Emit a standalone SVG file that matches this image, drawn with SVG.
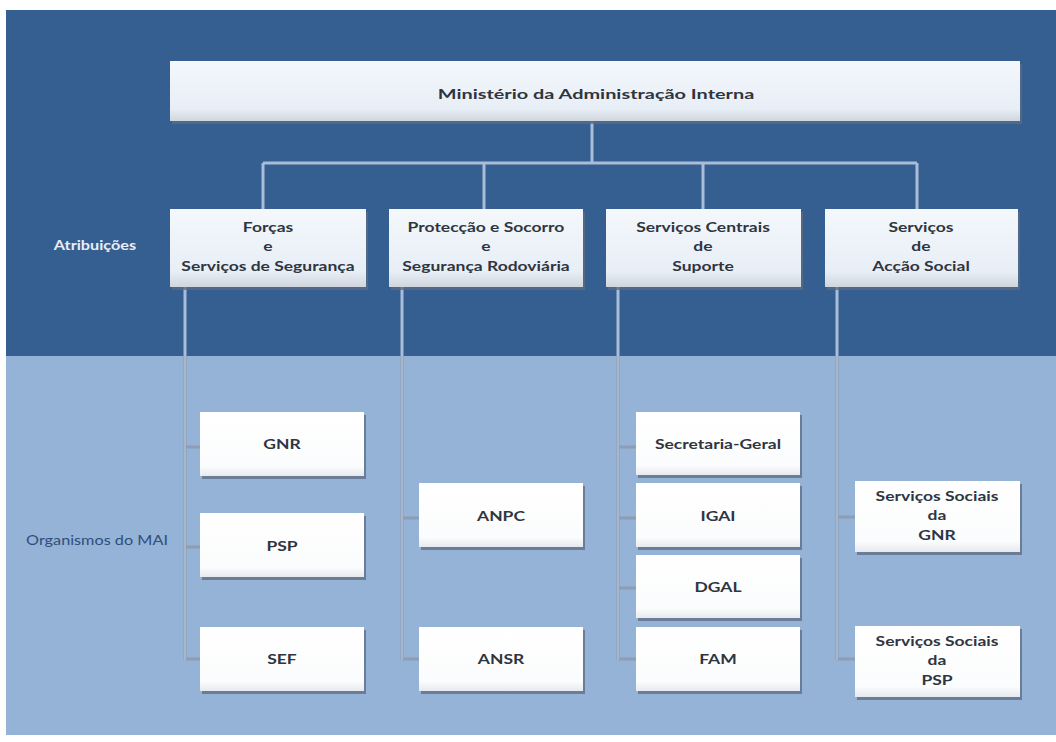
<svg xmlns="http://www.w3.org/2000/svg" width="1056" height="742" viewBox="0 0 1056 742">
<defs>
<linearGradient id="gTop" x1="0" y1="0" x2="0" y2="1">
<stop offset="0" stop-color="#f4f8fc"/><stop offset="0.8" stop-color="#e8eef6"/><stop offset="1" stop-color="#cfd6df"/>
</linearGradient>
<linearGradient id="gBox" x1="0" y1="0" x2="0" y2="1">
<stop offset="0" stop-color="#ffffff"/><stop offset="0.85" stop-color="#fbfcfd"/><stop offset="1" stop-color="#e6e9ee"/>
</linearGradient>
<style>
.sh{fill:#5d6b80;opacity:0.75}
.top{fill:url(#gTop)}
.box{fill:url(#gBox)}
.t{font-family:Lato,"Open Sans","Liberation Sans",sans-serif;font-weight:bold;fill:#2f3540;text-anchor:middle;font-size:14px}
.c1{stroke:#a9bdd8;stroke-width:3;fill:none}
.c2{stroke:#8e9db3;stroke-width:3;fill:none}
.c2i{stroke:#c3cfdf;stroke-width:1;fill:none}
</style>
</defs>
<rect x="0" y="0" width="1056" height="742" fill="#ffffff"/>
<rect x="6" y="10" width="1050" height="346" fill="#365f91"/>
<rect x="6" y="356" width="1050" height="379" fill="#95b3d7"/>

<g id="connectors">
<path class="c1" d="M592 122V163M263 163H917M263 163V209M484 163V209M703 163V209M917 163V209"/>
<path class="c1" d="M185 287V356M402 287V356M618 287V356M837 287V356"/>
<path class="c2" d="M185 356V660M402 356V660M618 356V660M837 356V660"/>
<path class="c2" d="M185 447H200M185 547H200M185 659H200M402 518H419M402 659H419M618 447H636M618 518H636M618 588H636M618 659H636M837 517H855M837 659H855"/>
<path class="c2i" d="M185 356V660M402 356V660M618 356V660M837 356V660"/>
</g>

<g id="label-atribuicoes"><text transform="translate(95 250) scale(1.3 1)" x="0" y="0" font-family="Lato,'Open Sans','Liberation Sans',sans-serif" font-weight="bold" font-size="12.5" fill="#e8eef6" text-anchor="middle">Atribuições</text></g>
<g id="label-organismos"><text transform="translate(97 545) scale(1.3 1)" x="0" y="0" font-family="Lato,'Open Sans','Liberation Sans',sans-serif" font-size="12.5" fill="#2e4f7c" text-anchor="middle">Organismos do MAI</text></g>

<g id="mai"><rect class="sh" x="172" y="64" width="850" height="60"/><rect class="top" x="170" y="61" width="850" height="60"/><text class="t" transform="translate(596 99) scale(1.42 1)" x="0" y="0" font-size="19">Ministério da Administração Interna</text></g>

<g id="forcas"><rect class="sh" x="172" y="212" width="196" height="78"/><rect class="top" x="170" y="209" width="196" height="78"/>
<g transform="translate(268 0) scale(1.25 1)"><text class="t" x="0" y="232">Forças</text><text class="t" x="0" y="251">e</text><text class="t" x="0" y="271">Serviços de Segurança</text></g></g>
<g id="proteccao"><rect class="sh" x="391" y="212" width="194" height="78"/><rect class="top" x="389" y="209" width="194" height="78"/>
<g transform="translate(486 0) scale(1.25 1)"><text class="t" x="0" y="232">Protecção e Socorro</text><text class="t" x="0" y="251">e</text><text class="t" x="0" y="271">Segurança Rodoviária</text></g></g>
<g id="centrais"><rect class="sh" x="608" y="212" width="195" height="78"/><rect class="top" x="606" y="209" width="195" height="78"/>
<g transform="translate(703 0) scale(1.25 1)"><text class="t" x="0" y="232">Serviços Centrais</text><text class="t" x="0" y="251">de</text><text class="t" x="0" y="271">Suporte</text></g></g>
<g id="accao"><rect class="sh" x="827" y="212" width="193" height="78"/><rect class="top" x="825" y="209" width="193" height="78"/>
<g transform="translate(921 0) scale(1.25 1)"><text class="t" x="0" y="232">Serviços</text><text class="t" x="0" y="251">de</text><text class="t" x="0" y="271">Acção Social</text></g></g>

<g id="gnr"><rect class="sh" x="202" y="415" width="164" height="64"/><rect class="box" x="200" y="412" width="164" height="64"/><text class="t" transform="translate(282 449) scale(1.25 1)" x="0" y="0">GNR</text></g>
<g id="psp"><rect class="sh" x="202" y="516" width="164" height="64"/><rect class="box" x="200" y="513" width="164" height="64"/><text class="t" transform="translate(282 551) scale(1.25 1)" x="0" y="0">PSP</text></g>
<g id="sef"><rect class="sh" x="202" y="630" width="164" height="64"/><rect class="box" x="200" y="627" width="164" height="64"/><text class="t" transform="translate(282 664) scale(1.25 1)" x="0" y="0">SEF</text></g>

<g id="anpc"><rect class="sh" x="421" y="486" width="164" height="64"/><rect class="box" x="419" y="483" width="164" height="64"/><text class="t" transform="translate(501 521) scale(1.25 1)" x="0" y="0">ANPC</text></g>
<g id="ansr"><rect class="sh" x="421" y="630" width="164" height="64"/><rect class="box" x="419" y="627" width="164" height="64"/><text class="t" transform="translate(501 664) scale(1.25 1)" x="0" y="0">ANSR</text></g>

<g id="secretaria"><rect class="sh" x="638" y="415" width="164" height="63"/><rect class="box" x="636" y="412" width="164" height="63"/><text class="t" transform="translate(718 449) scale(1.25 1)" x="0" y="0">Secretaria-Geral</text></g>
<g id="igai"><rect class="sh" x="638" y="486" width="164" height="64"/><rect class="box" x="636" y="483" width="164" height="64"/><text class="t" transform="translate(718 521) scale(1.25 1)" x="0" y="0">IGAI</text></g>
<g id="dgal"><rect class="sh" x="638" y="558" width="164" height="63"/><rect class="box" x="636" y="555" width="164" height="63"/><text class="t" transform="translate(718 592) scale(1.25 1)" x="0" y="0">DGAL</text></g>
<g id="fam"><rect class="sh" x="638" y="630" width="164" height="64"/><rect class="box" x="636" y="627" width="164" height="64"/><text class="t" transform="translate(718 664) scale(1.25 1)" x="0" y="0">FAM</text></g>

<g id="ss-gnr"><rect class="sh" x="857" y="484" width="165" height="71"/><rect class="box" x="855" y="481" width="165" height="71"/>
<g transform="translate(937 0) scale(1.25 1)"><text class="t" x="0" y="501">Serviços Sociais</text><text class="t" x="0" y="520">da</text><text class="t" x="0" y="540">GNR</text></g></g>
<g id="ss-psp"><rect class="sh" x="857" y="629" width="165" height="71"/><rect class="box" x="855" y="626" width="165" height="71"/>
<g transform="translate(937 0) scale(1.25 1)"><text class="t" x="0" y="646">Serviços Sociais</text><text class="t" x="0" y="665">da</text><text class="t" x="0" y="685">PSP</text></g></g>
</svg>
